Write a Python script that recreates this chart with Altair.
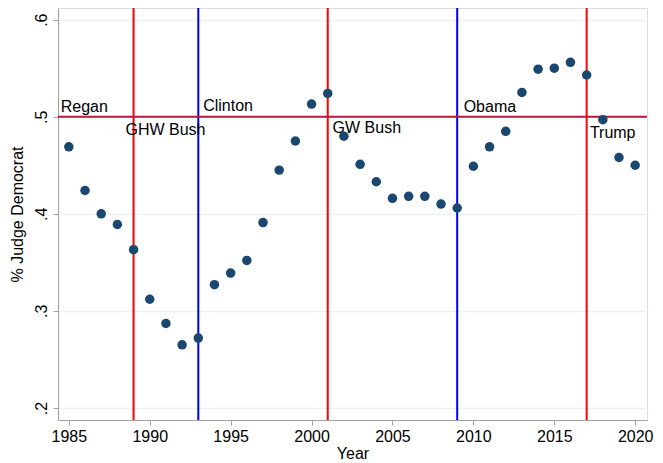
import altair as alt
import pandas as pd

years = list(range(1985, 2021))
share_dem = [0.469, 0.424, 0.400, 0.389, 0.363, 0.312, 0.287, 0.265, 0.272, 0.327,
             0.339, 0.352, 0.391, 0.445, 0.475, 0.513, 0.524, 0.480, 0.451, 0.433,
             0.416, 0.418, 0.418, 0.410, 0.406, 0.449, 0.469, 0.485, 0.525, 0.549,
             0.550, 0.556, 0.543, 0.497, 0.458, 0.450]

change_years = [1989, 1993, 2001, 2009, 2017]
change_colors = ["#ff0000", "#0000ff", "#ff0000", "#0000ff", "#ff0000"]

pres_names = ["Regan", "GHW Bush", "Clinton", "GW Bush", "Obama", "Trump"]
pres_x = [1984.5, 1988.5, 1993.3, 2001.3, 2009.4, 2017.2]
pres_y = [0.505, 0.481, 0.506, 0.483, 0.505, 0.478]

ref_level = [0.5]
y_ticks = [0.2, 0.3, 0.4, 0.5, 0.6]
x_ticks = [1985, 1990, 1995, 2000, 2005, 2010, 2015, 2020]

pts = pd.DataFrame({"Year": years, "share": share_dem})
vl = pd.DataFrame({"Year": change_years, "c": change_colors})
labs = pd.DataFrame({"x": pres_x, "y": pres_y, "t": pres_names})
hl = pd.DataFrame({"y": ref_level})

FONT = "Liberation Sans"
xs = alt.Scale(domain=[1984.33, 2020.73], nice=False, zero=False)
ys = alt.Scale(domain=[0.1876, 0.612], nice=False, zero=False)

x_axis = alt.Axis(values=x_ticks, format="d", grid=False, title="Year",
                  labelFontSize=16, titleFontSize=16, labelFont=FONT, titleFont=FONT,
                  titleFontWeight="normal",
                  labelColor="black", titleColor="black", domainColor="#a0a0a0",
                  tickColor="#a0a0a0", tickSize=5, labelPadding=3, titlePadding=1)
y_axis = alt.Axis(values=y_ticks, grid=True, gridColor="#eaf2f3", gridWidth=1.5,
                  title="% Judge Democrat",
                  labelExpr="replace(format(datum.value, '.1f'), '0.', '.')",
                  labelAngle=270, labelAlign="center", labelBaseline="bottom",
                  labelFontSize=16, titleFontSize=16, labelFont=FONT, titleFont=FONT,
                  titleFontWeight="normal",
                  labelColor="black", titleColor="black", domainColor="#a0a0a0",
                  tickColor="#a0a0a0", tickSize=5, labelPadding=4, titlePadding=8)

base_x = alt.X("Year:Q", scale=xs, axis=x_axis)

dots = alt.Chart(pts).mark_circle(size=90, color="#1a476f", opacity=1).encode(
    x=base_x, y=alt.Y("share:Q", scale=ys, axis=y_axis))

vrules = alt.Chart(vl).mark_rule(strokeWidth=2).encode(
    x=alt.X("Year:Q", scale=xs), color=alt.Color("c:N", scale=None))

hrule = alt.Chart(hl).mark_rule(strokeWidth=2, color="#c0143c").encode(
    y=alt.Y("y:Q", scale=ys))

texts = alt.Chart(labs).mark_text(align="left", baseline="alphabetic", fontSize=16,
                                  font=FONT, color="black").encode(
    x=alt.X("x:Q", scale=xs), y=alt.Y("y:Q", scale=ys), text="t:N")

chart = alt.layer(vrules, hrule, texts, dots).properties(
    width=589, height=412,
    autosize=alt.AutoSizeParams(type="none"),
    padding={"left": 50, "top": 0, "right": 8, "bottom": 47},
).configure_view(stroke=None).configure(background="white")

chart.save("out.html", embed_options={"renderer": "svg", "actions": False})
